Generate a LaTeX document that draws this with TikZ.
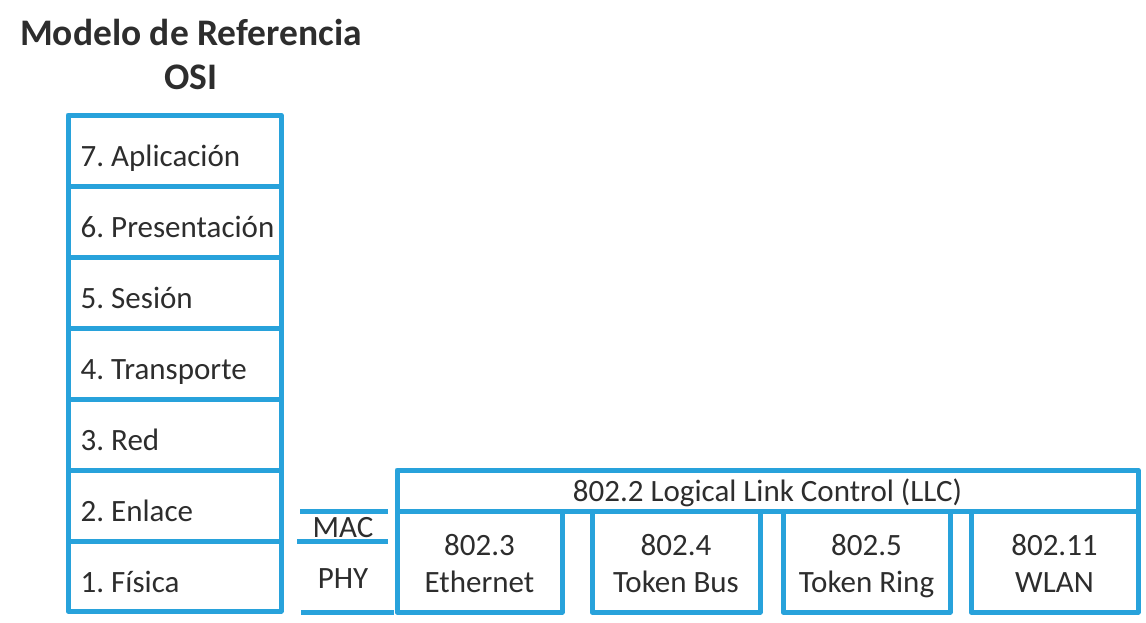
\documentclass[tikz,border=0pt]{standalone}
\usepackage{fontspec}
\setmainfont{Carlito}
\frenchspacing
\definecolor{osiblue}{RGB}{40,162,219}
\definecolor{txtgray}{RGB}{45,45,45}
\begin{document}
\begin{tikzpicture}[x=1pt,y=-1pt,
  every node/.style={text=txtgray, font=\fontsize{31}{37}\selectfont},
  box/.style={draw=osiblue, line width=5pt, line join=round, inner sep=0pt},
  layer/.style={box, minimum width=213pt, minimum height=71pt},
  layertext/.style={anchor=base west, inner sep=0pt},
  stdbox/.style={box, minimum height=101pt, align=center},
  stdtext/.style={anchor=base, inner sep=0pt, align=center},
  titletext/.style={anchor=base, inner sep=0pt, font=\fontsize{37.5}{44}\selectfont\bfseries},
  sep/.style={draw=osiblue, line width=5pt}]
\useasboundingbox (0,0) rectangle (1146,622);
% title
\node[titletext] (title1) at (191,45) {Modelo de Referencia};
\node[titletext] (title2) at (191,89) {OSI};
% OSI layers
\node[layer] (l7) at (174.5,150.5) {};
\node[layer] (l6) at (174.5,221.5) {};
\node[layer] (l5) at (174.5,292.5) {};
\node[layer] (l4) at (174.5,363.5) {};
\node[layer] (l3) at (174.5,434.5) {};
\node[layer] (l2) at (174.5,505.5) {};
\node[layer, minimum height=70pt] (l1) at (174.5,576) {};
\node[layertext] (t7) at ([xshift=15pt,yshift=-16pt]l7.west) {7. Aplicación};
\node[layertext] (t6) at ([xshift=15pt,yshift=-16pt]l6.west) {6. Presentación};
\node[layertext] (t5) at ([xshift=15pt,yshift=-16pt]l5.west) {5. Sesión};
\node[layertext] (t4) at ([xshift=15pt,yshift=-16pt]l4.west) {4. Transporte};
\node[layertext] (t3) at ([xshift=15pt,yshift=-16pt]l3.west) {3. Red};
\node[layertext] (t2) at ([xshift=15pt,yshift=-16pt]l2.west) {2. Enlace};
\node[layertext] (t1) at ([xshift=15pt,yshift=-16pt]l1.west) {1. Física};
% LLC
\node[box, minimum width=741pt, minimum height=41pt] (llc) at (767.5,490.5) {};
\node[anchor=base, inner sep=0pt] (llctext) at ([yshift=-11pt]llc.center) {802.2 Logical Link Control (LLC)};
% lower standards
\node[stdbox, minimum width=165pt] (eth) at (479.5,561.5) {};
\node[stdbox, minimum width=168pt] (tbus) at (676,561.5) {};
\node[stdbox, minimum width=167pt] (tring) at (866.5,561.5) {};
\node[stdbox, minimum width=167pt] (wlan) at (1054.5,561.5) {};
\node[stdtext] (etht) at ([yshift=-30.5pt]eth.center) {802.3\\Ethernet};
\node[stdtext] (tbust) at ([yshift=-30.5pt]tbus.center) {802.4\\Token Bus};
\node[stdtext] (tringt) at ([yshift=-30.5pt]tring.center) {802.5\\Token Ring};
\node[stdtext] (wlant) at ([yshift=-30.5pt]wlan.center) {802.11\\WLAN};
% MAC / PHY marks
\coordinate (m1a) at (300,511);
\coordinate (m1b) at (388,511);
\coordinate (m2a) at (297,541);
\coordinate (m2b) at (388,541);
\coordinate (m3a) at (301,612);
\coordinate (m3b) at (394,612);
\draw[sep] (m1a) -- (m1b);
\draw[sep] (m2a) -- (m2b);
\draw[sep] (m3a) -- (m3b);
\node[anchor=base, inner sep=0pt] (mac) at (343,537) {MAC};
\node[anchor=base, inner sep=0pt] (phy) at (343,588) {PHY};
\end{tikzpicture}
\end{document}
